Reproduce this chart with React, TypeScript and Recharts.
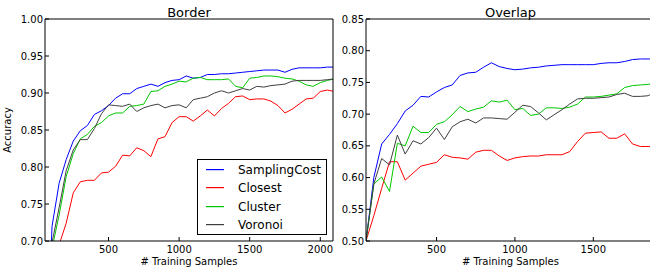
import React from 'react';
import { LineChart, Line, XAxis, YAxis } from 'recharts';

const FONT = '"DejaVu Sans", "Bitstream Vera Sans", sans-serif';

const seriesNames = ['SamplingCost', 'Closest', 'Cluster', 'Voronoi'];
const seriesColors = ['#0000ff', '#ff0000', '#00c800', '#404040'];

// ---- Border panel ----
const borderX = [50, 100, 150, 200, 250, 300, 350, 400, 450, 500, 550, 600, 650, 700, 750, 800, 850, 900, 950, 1000, 1050, 1100, 1150, 1200, 1250, 1300, 1350, 1400, 1450, 1500, 1550, 1600, 1650, 1700, 1750, 1800, 1850, 1900, 1950, 2000, 2050, 2100];
const borderSampling = [0.50, 0.72, 0.778, 0.81, 0.835, 0.849, 0.856, 0.871, 0.876, 0.883, 0.893, 0.899, 0.899, 0.906, 0.909, 0.912, 0.909, 0.914, 0.917, 0.918, 0.923, 0.920, 0.921, 0.925, 0.925, 0.926, 0.926, 0.927, 0.928, 0.929, 0.930, 0.931, 0.931, 0.931, 0.928, 0.932, 0.934, 0.934, 0.934, 0.934, 0.935, 0.935];
const borderClosest = [0.55, 0.64, 0.695, 0.724, 0.765, 0.780, 0.782, 0.782, 0.792, 0.793, 0.801, 0.816, 0.815, 0.826, 0.822, 0.814, 0.838, 0.841, 0.860, 0.868, 0.868, 0.862, 0.869, 0.877, 0.869, 0.879, 0.886, 0.895, 0.896, 0.891, 0.892, 0.892, 0.889, 0.883, 0.873, 0.878, 0.885, 0.892, 0.893, 0.902, 0.904, 0.902];
const borderCluster = [0.50, 0.69, 0.735, 0.787, 0.818, 0.838, 0.844, 0.855, 0.860, 0.869, 0.873, 0.873, 0.882, 0.883, 0.885, 0.902, 0.903, 0.909, 0.912, 0.916, 0.915, 0.920, 0.921, 0.918, 0.918, 0.918, 0.919, 0.909, 0.907, 0.920, 0.921, 0.923, 0.923, 0.922, 0.920, 0.919, 0.916, 0.911, 0.909, 0.914, 0.917, 0.919];
const borderVoronoi = [0.50, 0.698, 0.745, 0.795, 0.823, 0.837, 0.837, 0.852, 0.872, 0.884, 0.883, 0.882, 0.885, 0.875, 0.880, 0.883, 0.885, 0.880, 0.883, 0.884, 0.880, 0.891, 0.893, 0.895, 0.900, 0.903, 0.900, 0.903, 0.906, 0.904, 0.909, 0.908, 0.910, 0.911, 0.912, 0.916, 0.917, 0.917, 0.917, 0.917, 0.918, 0.919];
const borderXTicks = [500, 1000, 1500, 2000];
const borderYTicks = [0.70, 0.75, 0.80, 0.85, 0.90, 0.95, 1.00];

// ---- Overlap panel ----
const overlapX = [50, 100, 150, 200, 250, 300, 350, 400, 450, 500, 550, 600, 650, 700, 750, 800, 850, 900, 950, 1000, 1050, 1100, 1150, 1200, 1250, 1300, 1350, 1400, 1450, 1500, 1550, 1600, 1650, 1700, 1750, 1800, 1850, 1900];
const overlapSampling = [0.50, 0.60, 0.653, 0.668, 0.685, 0.705, 0.714, 0.728, 0.727, 0.735, 0.742, 0.746, 0.761, 0.765, 0.766, 0.774, 0.781, 0.775, 0.772, 0.770, 0.771, 0.773, 0.774, 0.776, 0.777, 0.778, 0.778, 0.778, 0.778, 0.778, 0.780, 0.781, 0.781, 0.783, 0.786, 0.787, 0.787, 0.787];
const overlapClosest = [0.50, 0.54, 0.583, 0.625, 0.625, 0.596, 0.607, 0.618, 0.621, 0.624, 0.636, 0.632, 0.631, 0.629, 0.640, 0.643, 0.643, 0.634, 0.627, 0.631, 0.633, 0.634, 0.634, 0.636, 0.636, 0.636, 0.641, 0.657, 0.670, 0.671, 0.672, 0.662, 0.662, 0.669, 0.653, 0.649, 0.649, 0.649];
const overlapCluster = [0.50, 0.590, 0.601, 0.578, 0.654, 0.650, 0.681, 0.671, 0.671, 0.684, 0.688, 0.699, 0.712, 0.704, 0.708, 0.711, 0.721, 0.719, 0.722, 0.707, 0.709, 0.698, 0.700, 0.710, 0.710, 0.709, 0.711, 0.716, 0.727, 0.727, 0.728, 0.730, 0.732, 0.742, 0.745, 0.746, 0.747, 0.748];
const overlapVoronoi = [0.50, 0.59, 0.630, 0.620, 0.667, 0.637, 0.658, 0.653, 0.663, 0.678, 0.660, 0.680, 0.688, 0.692, 0.686, 0.694, 0.694, 0.693, 0.692, 0.703, 0.714, 0.712, 0.702, 0.691, 0.699, 0.707, 0.716, 0.724, 0.725, 0.725, 0.726, 0.727, 0.731, 0.733, 0.728, 0.728, 0.729, 0.736];
const overlapXTicks = [500, 1000, 1500];
const overlapYTicks = [0.50, 0.55, 0.60, 0.65, 0.70, 0.75, 0.80, 0.85];

function buildRows(xs: number[], cols: number[][]) {
  return xs.map((x, i) => {
    const row: Record<string, number> = { x };
    cols.forEach((c, k) => {
      row['s' + k] = c[i];
    });
    return row;
  });
}

const borderData = buildRows(borderX, [borderSampling, borderClosest, borderCluster, borderVoronoi]);
const overlapData = buildRows(overlapX, [overlapSampling, overlapClosest, overlapCluster, overlapVoronoi]);

const tickStyle = { fill: '#000', fontSize: 10, fontFamily: FONT };

type PanelProps = {
  left: number;
  width: number;
  data: Record<string, number>[];
  xDomain: [number, number];
  xTicks: number[];
  yDomain: [number, number];
  yTicks: number[];
};

function Panel({ left, width, data, xDomain, xTicks, yDomain, yTicks }: PanelProps) {
  return (
    <div style={{ position: 'absolute', left, top: 0 }}>
      <LineChart width={width} height={271} data={data} margin={{ top: 18, right: 0, bottom: 0, left: 0 }}>
        <XAxis
          xAxisId="b"
          dataKey="x"
          type="number"
          domain={xDomain}
          ticks={xTicks}
          interval={0}
          allowDataOverflow
          height={30}
          tickSize={-4}
          tickMargin={9}
          tick={tickStyle}
          stroke="#000"
        />
        <XAxis
          xAxisId="t"
          orientation="top"
          dataKey="x"
          type="number"
          domain={xDomain}
          ticks={xTicks}
          interval={0}
          allowDataOverflow
          height={1}
          tickSize={-4}
          tick={false}
          stroke="#000"
        />
        <YAxis
          yAxisId="l"
          type="number"
          domain={yDomain}
          ticks={yTicks}
          interval={0}
          allowDataOverflow
          width={45}
          tickSize={-4}
          tickMargin={6}
          tickFormatter={(v: number) => v.toFixed(2)}
          tick={tickStyle}
          stroke="#000"
        />
        <YAxis
          yAxisId="r"
          orientation="right"
          type="number"
          domain={yDomain}
          ticks={yTicks}
          interval={0}
          allowDataOverflow
          width={1}
          tickSize={-4}
          tick={false}
          stroke="#000"
        />
        {seriesNames.map((n, i) => (
          <Line
            key={n}
            name={n}
            xAxisId="b"
            yAxisId="l"
            type="linear"
            dataKey={'s' + i}
            stroke={seriesColors[i]}
            strokeWidth={1}
            dot={false}
            activeDot={false}
            isAnimationActive={false}
          />
        ))}
      </LineChart>
    </div>
  );
}

const legendRowsY = [169, 187, 206, 224];

export default function App() {
  return (
    <div style={{ position: 'absolute', left: 0, top: 0, width: 650, height: 271, overflow: 'hidden', background: '#fff' }}>
      <Panel left={0} width={334} data={borderData} xDomain={[50, 2090]} xTicks={borderXTicks} yDomain={[0.7, 1.0]} yTicks={borderYTicks} />
      <Panel left={321} width={336} data={overlapData} xDomain={[50, 1900]} xTicks={overlapXTicks} yDomain={[0.5, 0.85]} yTicks={overlapYTicks} />
      <svg width={650} height={271} style={{ position: 'absolute', left: 0, top: 0, pointerEvents: 'none' }} fontFamily={FONT}>
        <text x={189} y={16.5} textAnchor="middle" fontSize={13} fill="#000">Border</text>
        <text x={510.5} y={16.5} textAnchor="middle" fontSize={13} fill="#000">Overlap</text>
        <text x={189} y={264.5} textAnchor="middle" fontSize={10} fill="#000"># Training Samples</text>
        <text x={510.5} y={264.5} textAnchor="middle" fontSize={10} fill="#000"># Training Samples</text>
        <text x={11} y={130} textAnchor="middle" fontSize={10} fill="#000" transform="rotate(-90 11 130)">Accuracy</text>
        <rect x={197.5} y={159.5} width={129} height={75} fill="#fff" stroke="#000" strokeWidth={1} />
        {seriesNames.map((n, i) => (
          <g key={n}>
            <rect x={206} y={legendRowsY[i]} width={18} height={1.2} fill={seriesColors[i]} />
            <text x={238} y={legendRowsY[i] + 5} fontSize={12} fill="#000">{n}</text>
          </g>
        ))}
      </svg>
    </div>
  );
}
